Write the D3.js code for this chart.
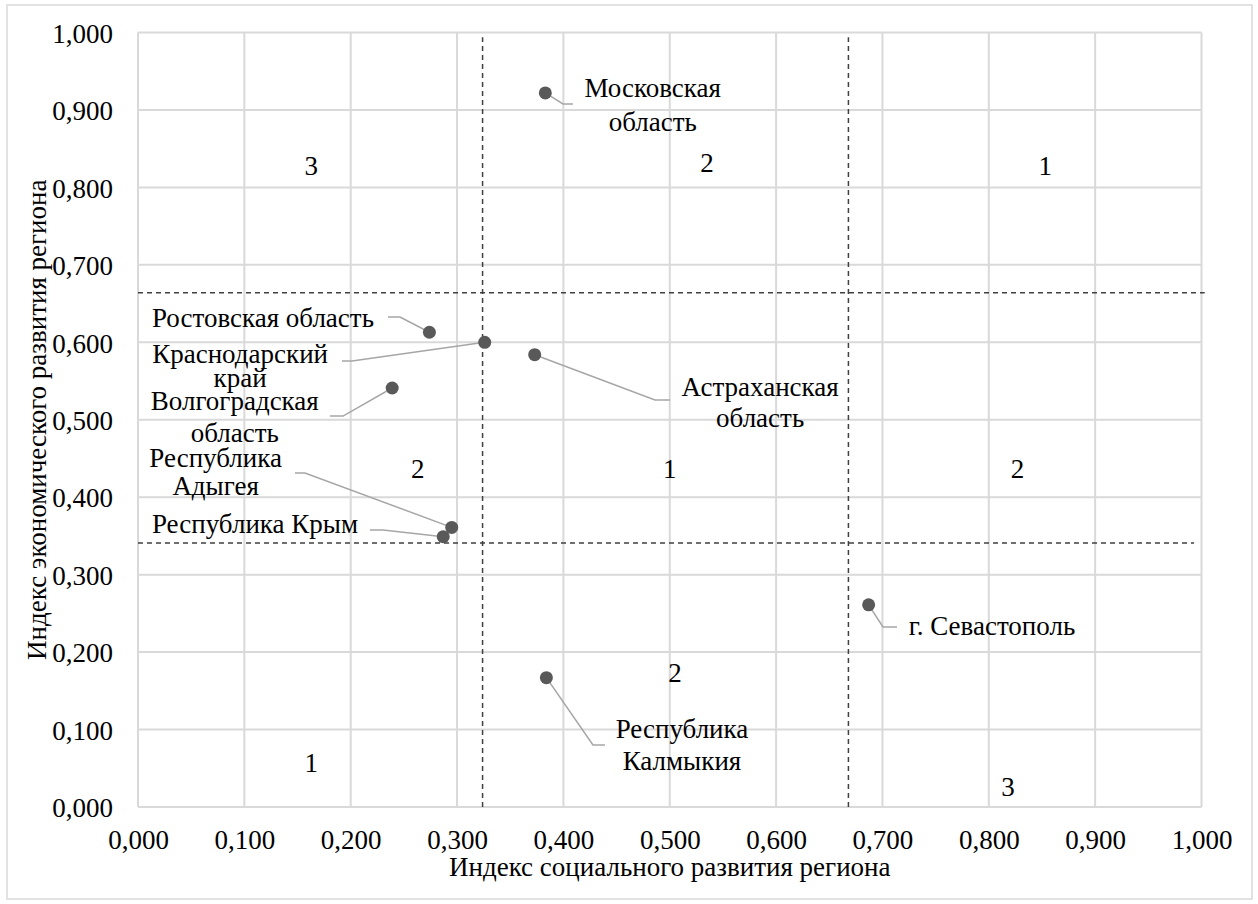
<!DOCTYPE html>
<html>
<head>
<meta charset="utf-8">
<script src="https://cdn.jsdelivr.net/npm/d3@7"></script>
<style>
  body { margin: 0; background: #fff; }
  svg text { font-family: "Liberation Serif", Tinos, "Times New Roman", "DejaVu Serif", "Noto Serif", serif; fill: #000; }
</style>
</head>
<body>
<svg width="1258" height="904"></svg>
<script>
// regions: social index (x), economic index (y)
var regionNames = ["Московская область", "Ростовская область", "Краснодарский край", "Астраханская область",
                   "Волгоградская область", "Республика Адыгея", "Республика Крым", "г. Севастополь", "Республика Калмыкия"];
var socialIndex   = [0.383, 0.274, 0.326, 0.373, 0.239, 0.295, 0.287, 0.687, 0.384];
var economicIndex = [0.922, 0.613, 0.600, 0.584, 0.541, 0.361, 0.349, 0.261, 0.167];

// label lines for each region
var labelLines = [["Московская", "область"], ["Ростовская область"], ["Краснодарский", "край"], ["Астраханская", "область"],
                  ["Волгоградская", "область"], ["Республика", "Адыгея"], ["Республика Крым"], ["г. Севастополь"], ["Республика", "Калмыкия"]];

// threshold (dashed) lines
var vThresholds = [0.324, 0.668];
var hThresholds = [0.664, 0.341];

// group numbers inside quadrants
var zoneLabels = ["3", "2", "1", "2", "1", "2", "2", "1", "3"];
var zoneX = [0.163, 0.535, 0.853, 0.263, 0.500, 0.827, 0.505, 0.163, 0.818];
var zoneY = [0.816, 0.820, 0.816, 0.425, 0.425, 0.425, 0.161, 0.045, 0.014];

var xTicks = d3.range(0, 1.0001, 0.1);
var yTicks = d3.range(0, 1.0001, 0.1);

// label placement (in data units): text centre x, baselines y, leader knee and end
var labelX    = [0.484, 0.1175, 0.096, 0.585, 0.091, 0.073, 0.110, 0.803, 0.5115];
var labelY    = [[0.917, 0.873], [0.620], [0.573, 0.542], [0.531, 0.491], [0.513, 0.471], [0.439, 0.403], [0.354], [0.222], [0.089, 0.048]];
var leaderKnee = [[0.3996, 0.9077], [0.2464, 0.6327], [0.2012, 0.5759], [0.4861, 0.5255], [0.1928, 0.5048], [0.1570, 0.4313], [0.2304, 0.3577], [0.7005, 0.2324], [0.4278, 0.0801]];
var leaderEnd  = [[0.4090, 0.9077], [0.2351, 0.6327], [0.1918, 0.5759], [0.5002, 0.5255], [0.1805, 0.5048], [0.1476, 0.4313], [0.2181, 0.3577], [0.7137, 0.2324], [0.4391, 0.0801]];

var margin = {left: 138, top: 32.5, right: 56.5, bottom: 97};
var width = 1258 - margin.left - margin.right;
var height = 904 - margin.top - margin.bottom;
var fontSize = 27;
var serif = '"Liberation Serif", Tinos, "Times New Roman", "DejaVu Serif", serif';

var svg = d3.select("svg");

// outer chart border
svg.append("rect")
    .attr("x", 7).attr("y", 5)
    .attr("width", 1245).attr("height", 894)
    .attr("fill", "none")
    .attr("stroke", "#d9d9d9")
    .attr("stroke-width", 1.5);

var g = svg.append("g")
    .attr("transform", "translate(" + margin.left + "," + margin.top + ")");

var x = d3.scaleLinear().domain([0, 1]).range([0, width]);
var y = d3.scaleLinear().domain([0, 1]).range([height, 0]);

var fmt = function(d) { return d3.format(".3f")(d).replace(".", ","); };

// gridlines
g.selectAll("line.vgrid")
    .data(xTicks)
    .enter().append("line")
    .attr("class", "vgrid")
    .attr("x1", function(d) { return x(d); })
    .attr("x2", function(d) { return x(d); })
    .attr("y1", 0).attr("y2", height)
    .attr("stroke", "#d9d9d9").attr("stroke-width", 2);

g.selectAll("line.hgrid")
    .data(yTicks)
    .enter().append("line")
    .attr("class", "hgrid")
    .attr("y1", function(d) { return y(d); })
    .attr("y2", function(d) { return y(d); })
    .attr("x1", 0).attr("x2", width)
    .attr("stroke", "#d9d9d9").attr("stroke-width", 2);

// tick labels via axes
var xAxis = g.append("g")
    .attr("transform", "translate(0," + height + ")")
    .call(d3.axisBottom(x).tickValues(xTicks).tickFormat(fmt).tickSize(0).tickPadding(23));
var yAxis = g.append("g")
    .call(d3.axisLeft(y).tickValues(yTicks).tickFormat(fmt).tickSize(0).tickPadding(25));
[xAxis, yAxis].forEach(function(a) {
    a.attr("font-family", serif).attr("font-size", fontSize);
    a.select(".domain").remove();
    a.selectAll("text")
        .style("font-family", serif)
        .style("font-size", fontSize + "px")
        .attr("fill", "#000");
});
yAxis.selectAll("text").attr("dy", "0.36em");
xAxis.selectAll("text").attr("dy", "0.71em");

// dashed thresholds
g.selectAll("line.vthr")
    .data(vThresholds)
    .enter().append("line")
    .attr("x1", function(d) { return x(d); })
    .attr("x2", function(d) { return x(d); })
    .attr("y1", y(0)).attr("y2", y(0.994))
    .attr("stroke", "#404040").attr("stroke-width", 1.5)
    .attr("stroke-dasharray", "5,4");

g.selectAll("line.hthr")
    .data(hThresholds)
    .enter().append("line")
    .attr("y1", function(d) { return y(d); })
    .attr("y2", function(d) { return y(d); })
    .attr("x1", x(0)).attr("x2", function(d, i) { return x(i === 0 ? 1.003 : 0.993); })
    .attr("stroke", "#404040").attr("stroke-width", 1.5)
    .attr("stroke-dasharray", "5,4");

// zone numbers
g.selectAll("text.zone")
    .data(zoneLabels)
    .enter().append("text")
    .attr("class", "zone")
    .attr("x", function(d, i) { return x(zoneX[i]); })
    .attr("y", function(d, i) { return y(zoneY[i]); })
    .attr("text-anchor", "middle")
    .style("font-family", serif)
    .style("font-size", fontSize + "px")
    .text(function(d) { return d; });

// leader lines
g.selectAll("path.leader")
    .data(regionNames)
    .enter().append("path")
    .attr("class", "leader")
    .attr("d", function(d, i) {
        return d3.line()([
            [x(socialIndex[i]), y(economicIndex[i])],
            [x(leaderKnee[i][0]), y(leaderKnee[i][1])],
            [x(leaderEnd[i][0]), y(leaderEnd[i][1])]
        ]);
    })
    .attr("fill", "none")
    .attr("stroke", "#a6a6a6")
    .attr("stroke-width", 1.5);

// points
g.selectAll("circle.region")
    .data(regionNames)
    .enter().append("circle")
    .attr("class", "region")
    .attr("cx", function(d, i) { return x(socialIndex[i]); })
    .attr("cy", function(d, i) { return y(economicIndex[i]); })
    .attr("r", 6.5)
    .attr("fill", "#595959");

// region labels
var lbl = g.selectAll("text.rlabel")
    .data(regionNames)
    .enter().append("text")
    .attr("class", "rlabel")
    .attr("text-anchor", "middle")
    .style("font-family", serif)
    .style("font-size", fontSize + "px");
lbl.each(function(d, i) {
    var t = d3.select(this);
    labelLines[i].forEach(function(line, j) {
        t.append("tspan")
            .attr("x", x(labelX[i]))
            .attr("y", y(labelY[i][j]))
            .text(line);
    });
});

// axis titles
svg.append("text")
    .attr("x", margin.left + width / 2)
    .attr("y", 876)
    .attr("text-anchor", "middle")
    .style("font-family", serif)
    .style("font-size", fontSize + "px")
    .text("Индекс социального развития региона");

svg.append("text")
    .attr("transform", "translate(46," + (margin.top + height / 2) + ") rotate(-90)")
    .attr("text-anchor", "middle")
    .style("font-family", serif)
    .style("font-size", fontSize + "px")
    .text("Индекс экономического развития региона");
</script>
</body>
</html>
